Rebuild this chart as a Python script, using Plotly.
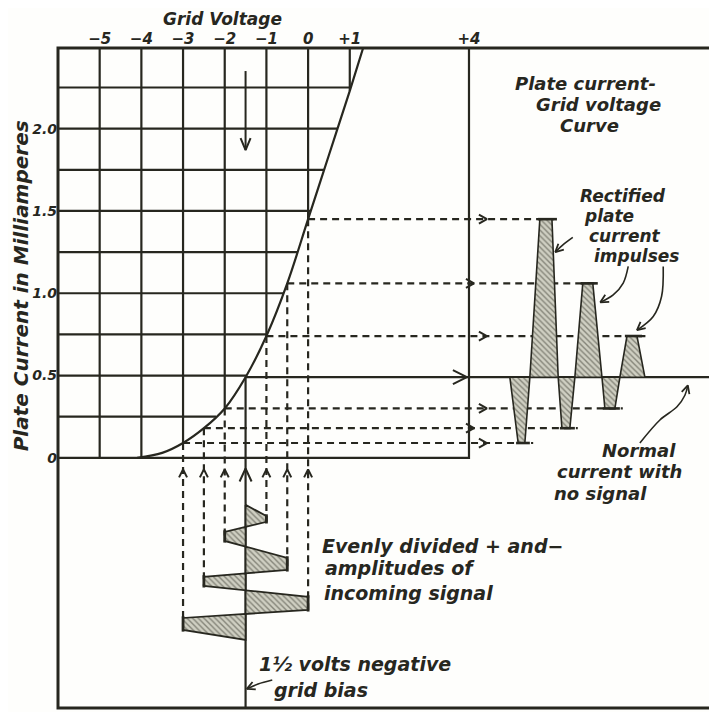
import numpy as np
import plotly.graph_objects as go

INK = "#27271f"
HAND = "DejaVu Sans"

# grid of the characteristic (volts across, milliamperes up)
grid_volts = [-5, -4, -3, -2, -1, 0, 1]
grid_ma = [0.25, 0.5, 0.75, 1.0, 1.25, 1.5, 1.75, 2.0, 2.25]
plus4_volts = 3.86

x_tick_vals = [-5, -4, -3, -2, -1, 0, 1, 3.86]
x_tick_text = ["−5", "−4", "−3", "−2", "−1", "0", "+1", "+4"]
y_tick_vals = [0, 0.5, 1.0, 1.5, 2.0]
y_tick_text = ["0", "0.5", "1.0", "1.5", "2.0"]

# plate current - grid voltage curve
curve_volts = [-4.1, -3.5, -3.0, -2.5, -2.0, -1.5, -1.0, -0.5, 0.0, 0.5, 1.0, 1.32]
curve_ma = [0.0, 0.03, 0.09, 0.18, 0.30, 0.49, 0.74, 1.06, 1.45, 1.84, 2.23, 2.49]

# incoming signal, drawn downward under the grid (time in chart units)
bias_volts = -1.5
signal_amp = [0.5, -0.5, 1.0, -1.0, 1.5, -1.5]
signal_top = [-0.353, -0.450, -0.608, -0.723, -0.845, -0.973]
signal_bottom = [-0.389, -0.505, -0.681, -0.778, -0.924, -1.046]
signal_start = -0.286
signal_end = -1.106

# rectified plate current impulses, left to right
pulse_volts = [-3.0, 0.0, -2.5, -0.5, -2.0, -1.0]
pulse_base_l = [4.84, 5.32, 6.00, 6.40, 7.05, 7.48]
pulse_tip_l = [5.04, 5.56, 6.09, 6.59, 7.12, 7.65]
pulse_tip_r = [5.20, 5.85, 6.28, 6.83, 7.36, 7.89]
pulse_base_r = [5.32, 6.00, 6.40, 7.05, 7.48, 8.08]
dash_end = [5.40, 5.90, 6.47, 6.88, 7.55, 8.13]
arrow_at = [4.29, 4.29, 3.98, 3.98, 4.29, 4.29]

# frame (the page body adds 8px on the left and top)
W, H = 709, 704
M = dict(l=50, r=5, t=40, b=4)
LEFT_V, RIGHT_V = -6.0, 9.69
BOTTOM_MA, TOP_MA = -1.52, 2.49
PX_V = (W - M["l"] - M["r"]) / (RIGHT_V - LEFT_V)
PX_MA = (H - M["t"] - M["b"]) / (TOP_MA - BOTTOM_MA)


def ma_at(v):
    return float(np.interp(v, curve_volts, curve_ma, left=0.0))


def volts_at(ma):
    return float(np.interp(ma, curve_ma, curve_volts))


def lines(xs, ys, width=2.0, dash=None, shape="linear", color=INK):
    return go.Scatter(x=xs, y=ys, mode="lines", hoverinfo="skip", showlegend=False,
                      line=dict(color=color, width=width, dash=dash, shape=shape))


def chevron(x, y, ux, uy, length=8.0, half=4.5):
    # ux, uy: unit direction on screen, y pointing up
    w1 = (x + (-ux * length - uy * half) / PX_V, y + (-uy * length + ux * half) / PX_MA)
    w2 = (x + (-ux * length + uy * half) / PX_V, y + (-uy * length - ux * half) / PX_MA)
    return [w1[0], x, w2[0], None], [w1[1], y, w2[1], None]


fig = go.Figure()
bias_ma = ma_at(bias_volts)

# solid grid, stopping at the curve
gx, gy = [], []
for ma in grid_ma:
    gx += [LEFT_V, volts_at(ma), None]
    gy += [ma, ma, None]
for v in grid_volts:
    gx += [v, v, None]
    gy += [TOP_MA, ma_at(v), None]
gx += [LEFT_V, plus4_volts, plus4_volts, None]
gy += [0, 0, TOP_MA, None]
fig.add_trace(lines(gx, gy, width=2.2))

# curve
fig.add_trace(lines(curve_volts, curve_ma, width=2.2, shape="spline"))

# projections from signal peaks up to the curve and across to the impulses
peak_volts = [bias_volts + a for a in signal_amp]
px_, py_ = [], []
for v, bot in zip(peak_volts, signal_bottom):
    px_ += [v, v, None]
    py_ += [ma_at(v), bot, None]
for i, v in enumerate(pulse_volts):
    lvl = ma_at(v)
    px_ += [v, dash_end[i], None]
    py_ += [lvl, lvl, None]
fig.add_trace(lines(px_, py_, width=2.2, dash="7px,5px"))

# bias: solid vertical and the no-signal current level
fig.add_trace(lines([bias_volts, bias_volts, None, bias_volts, RIGHT_V],
                    [bias_ma, BOTTOM_MA, None, bias_ma, bias_ma], width=2.2))

# arrow heads
ax_, ay_ = [], []
for v in peak_volts:
    cx, cy = chevron(v, -0.07, 0, 1, 8, 4)
    ax_ += cx
    ay_ += cy
for i, v in enumerate(pulse_volts):
    cx, cy = chevron(arrow_at[i], ma_at(v), 1, 0, 8, 4.5)
    ax_ += cx
    ay_ += cy
cx, cy = chevron(bias_volts, -0.065, 0, 1, 13, 6)
ax_ += cx
ay_ += cy
cx, cy = chevron(plus4_volts - 0.05, bias_ma, 1, 0, 14, 7)
ax_ += cx
ay_ += cy
cx, cy = chevron(bias_volts, 1.87, 0, -1, 12, 5)
ax_ += cx + [bias_volts, bias_volts, None]
ay_ += cy + [2.35, 1.87, None]
fig.add_trace(lines(ax_, ay_, width=2.0))

# hatched impulses
hatch = dict(shape="\\", fgcolor="#3a3a30", bgcolor="#cfcfc2", size=4, solidity=0.35)
qx, qy, capx, capy = [], [], [], []
for i, v in enumerate(pulse_volts):
    lvl = ma_at(v)
    qx += [pulse_base_l[i], pulse_tip_l[i], pulse_tip_r[i], pulse_base_r[i], pulse_base_l[i], None]
    qy += [bias_ma, lvl, lvl, bias_ma, bias_ma, None]
    capx += [pulse_tip_l[i] - 0.05, pulse_tip_r[i] + 0.12, None]
    capy += [lvl, lvl, None]
fig.add_trace(go.Scatter(x=qx, y=qy, mode="lines", fill="toself", fillpattern=hatch,
                         fillcolor="#cfcfc2", line=dict(color=INK, width=1.6),
                         hoverinfo="skip", showlegend=False))
fig.add_trace(lines(capx, capy, width=2.6))

# hatched incoming signal
cross = [signal_start]
for i in range(len(signal_amp) - 1):
    f = signal_amp[i] / (signal_amp[i] - signal_amp[i + 1])
    cross.append(signal_bottom[i] + f * (signal_top[i + 1] - signal_bottom[i]))
cross.append(signal_end)
sx, sy = [], []
for i, v in enumerate(peak_volts):
    sx += [bias_volts, v, v, bias_volts, bias_volts, None]
    sy += [cross[i], signal_top[i], signal_bottom[i], cross[i + 1], cross[i], None]
fig.add_trace(go.Scatter(x=sx, y=sy, mode="lines", fill="toself", fillpattern=hatch,
                         fillcolor="#cfcfc2", line=dict(color=INK, width=1.8),
                         hoverinfo="skip", showlegend=False))
kx, ky = [], []
for i, v in enumerate(peak_volts):
    kx += [v, v, None]
    ky += [signal_top[i] + 0.01, signal_bottom[i] - 0.01, None]
fig.add_trace(lines(kx, ky, width=2.8))

# curved pointers from the notes
pointers = [
    ([6.35, 6.14, 5.93], [1.34, 1.30, 1.25]),
    ([7.68, 7.56, 7.32, 7.01], [1.163, 1.062, 0.99, 0.945]),
    ([8.52, 8.48, 8.28, 7.89], [1.163, 0.98, 0.859, 0.776]),
    ([7.96, 8.44, 8.85, 9.04, 9.11], [0.09, 0.23, 0.31, 0.38, 0.44]),
    ([-0.86, -1.2, -1.47], [-1.35, -1.374, -1.404]),
]
for xs, ys in pointers:
    fig.add_trace(lines(xs, ys, width=1.6, shape="spline"))
    dx = (xs[-1] - xs[-2]) * PX_V
    dy = (ys[-1] - ys[-2]) * PX_MA
    n = (dx * dx + dy * dy) ** 0.5
    cx, cy = chevron(xs[-1], ys[-1], dx / n, dy / n, 8, 4)
    fig.add_trace(lines(cx, cy, width=1.8))

# lettering
notes = [
    ("Plate current-", 4.92, 2.277, 18),
    ("Grid voltage", 5.42, 2.146, 18),
    ("Curve", 6.0, 2.018, 18),
    ("Rectified", 6.47, 1.593, 17),
    ("plate", 6.57, 1.471, 17),
    ("current", 6.69, 1.350, 17),
    ("impulses", 6.81, 1.228, 17),
    ("Normal", 7.0, 0.042, 18),
    ("current with", 5.92, -0.085, 18),
    ("no signal", 5.85, -0.219, 18),
    ("Evenly divided + and−", 0.29, -0.535, 19),
    ("amplitudes of", 0.36, -0.672, 19),
    ("incoming signal", 0.34, -0.821, 19),
    ("1½ volts negative", -1.22, -1.255, 19),
    ("grid bias", -0.86, -1.412, 19),
]
for text, x, y, size in notes:
    fig.add_annotation(x=x, y=y, text=text, showarrow=False, xanchor="left", yanchor="middle",
                       font=dict(family=HAND, size=size, color=INK, style="italic", weight="bold"))
fig.add_annotation(x=-2.06, yref="paper", y=1, yshift=29, text="Grid Voltage",
                   showarrow=False, xanchor="center", yanchor="middle",
                   font=dict(family=HAND, size=17, color=INK, style="italic", weight="bold"))
fig.add_annotation(xref="paper", yref="paper", x=-0.057, y=0.64, text="Plate Current in Milliamperes",
                   textangle=-90, showarrow=False, xanchor="center", yanchor="middle",
                   font=dict(family=HAND, size=20, color=INK, style="italic", weight="bold"))

# outer frame
fig.add_shape(type="rect", xref="paper", yref="paper", x0=0, y0=0, x1=1, y1=1,
              line=dict(color=INK, width=3))

fig.update_layout(
    width=W, height=H, margin=M,
    paper_bgcolor="#fefefc", plot_bgcolor="#fefefc",
    xaxis=dict(range=[LEFT_V, RIGHT_V], side="top", tickvals=x_tick_vals, ticktext=x_tick_text,
               showgrid=False, zeroline=False, showline=False, ticks="", automargin=False,
               tickfont=dict(family=HAND, size=15, color=INK, style="italic", weight="bold")),
    yaxis=dict(range=[BOTTOM_MA, TOP_MA], tickvals=y_tick_vals, ticktext=y_tick_text,
               showgrid=False, zeroline=False, showline=False, ticks="", automargin=False,
               tickfont=dict(family=HAND, size=14, color=INK, style="italic", weight="bold")),
)

fig.write_html("out.html")
